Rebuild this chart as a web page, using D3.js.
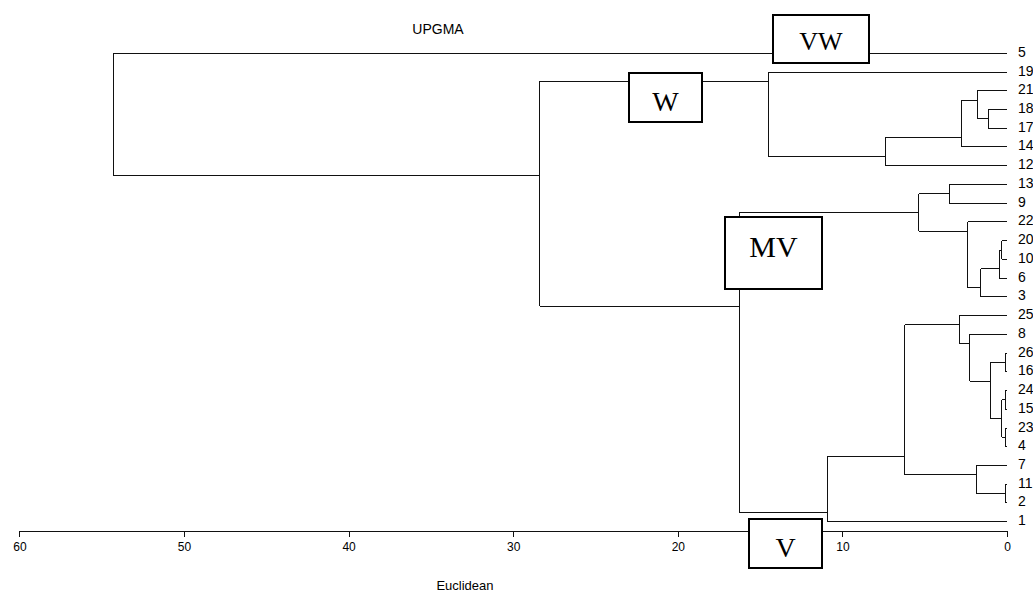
<!DOCTYPE html>
<html>
<head>
<meta charset="utf-8">
<script src="https://cdn.jsdelivr.net/npm/d3@7"></script>
<style>
  html, body { margin: 0; padding: 0; background: #fff; }
  svg { display: block; }
  .tree line { stroke: #111; stroke-width: 1; shape-rendering: crispEdges; }
  .axis text { font-family: "Liberation Sans", Arial, sans-serif; font-size: 12px; fill: #000; }
  .axis path, .axis line { stroke: #111; shape-rendering: crispEdges; }
</style>
</head>
<body>
<svg id="chart" width="1033" height="592"></svg>
<script>
// leaf order, top to bottom
const leaves = ['5', '19', '21', '18', '17', '14', '12', '13', '9', '22', '20', '10', '6', '3',
  '25', '8', '26', '16', '24', '15', '23', '4', '7', '11', '2', '1'];

// merges: [top child, bottom child, height]; internal nodes are named n0, n1, ...
const merges = [
  ['18', '17', 1.14],   // n0
  ['21', 'n0', 1.8],    // n1
  ['n1', '14', 2.75],   // n2
  ['n2', '12', 7.39],   // n3
  ['19', 'n3', 14.5],   // n4
  ['13', '9', 3.5],     // n5
  ['20', '10', 0.32],   // n6
  ['n6', '6', 0.47],    // n7
  ['n7', '3', 1.6],     // n8
  ['22', 'n8', 2.39],   // n9
  ['n5', 'n9', 5.35],   // n10
  ['26', '16', 0.12],   // n11
  ['24', '15', 0.12],   // n12
  ['23', '4', 0.12],    // n13
  ['n12', 'n13', 0.32], // n14
  ['n11', 'n14', 1.0],  // n15
  ['8', 'n15', 2.27],   // n16
  ['25', 'n16', 2.9],   // n17
  ['11', '2', 0.12],    // n18
  ['7', 'n18', 1.88],   // n19
  ['n17', 'n19', 6.2],  // n20
  ['n20', '1', 10.9],   // n21
  ['n10', 'n21', 16.28],// n22
  ['n4', 'n22', 28.4],  // n23
  ['5', 'n23', 54.3]    // n24
];

const xTicks = [60, 50, 40, 30, 20, 10, 0];
const title = 'UPGMA';
const xTitle = 'Euclidean';

const svg = d3.select('#chart');

const x = d3.scaleLinear().domain([60, 0]).range([19.4, 1007]);
const y = d3.scaleLinear().domain([0, leaves.length - 1]).range([53.3, 521.7]);

// build nodes
const nodes = {};
leaves.forEach((l, i) => {
  nodes[l] = {name: l, h: 0, first: i, last: i, pos: i};
});
merges.forEach((m, i) => {
  const a = nodes[m[0]], b = nodes[m[1]];
  // node sits at the split between its two children
  nodes['n' + i] = {
    name: 'n' + i, h: m[2], a: a, b: b,
    first: a.first, last: b.last,
    pos: (a.last + b.first) / 2
  };
});

const tree = svg.append('g').attr('class', 'tree');
merges.forEach((m, i) => {
  const n = nodes['n' + i];
  [n.a, n.b].forEach(c => {
    tree.append('line')
      .attr('x1', x(c.h)).attr('x2', x(n.h))
      .attr('y1', y(c.pos)).attr('y2', y(c.pos));
  });
  tree.append('line')
    .attr('x1', x(n.h)).attr('x2', x(n.h))
    .attr('y1', y(n.a.pos)).attr('y2', y(n.b.pos));
});

// leaf labels
svg.append('g')
  .selectAll('text')
  .data(leaves)
  .enter().append('text')
  .attr('x', x(0) + 11)
  .attr('y', (d, i) => y(i) + 3.5)
  .attr('font-family', '"Liberation Sans", Arial, sans-serif')
  .attr('font-size', '14px')
  .text(d => d);

// axis
svg.append('g')
  .attr('class', 'axis')
  .attr('transform', 'translate(0,531)')
  .call(d3.axisBottom(x).tickValues(xTicks).tickSize(6).tickSizeOuter(0).tickPadding(5))
  .call(g => g.selectAll('text').attr('dy', '0.71em'));

svg.append('text')
  .attr('x', 438).attr('y', 34)
  .attr('text-anchor', 'middle')
  .attr('font-family', '"Liberation Sans", Arial, sans-serif')
  .attr('font-size', '14px')
  .text(title);

svg.append('text')
  .attr('x', 465).attr('y', 590)
  .attr('text-anchor', 'middle')
  .attr('font-family', '"Liberation Sans", Arial, sans-serif')
  .attr('font-size', '13px')
  .text(xTitle);

// cluster boxes
const boxes = [
  {label: 'VW', x: 773, y: 15, w: 96, h: 48, size: 26, base: 50},
  {label: 'W', x: 629, y: 73, w: 73, h: 49, size: 28, base: 111},
  {label: 'MV', x: 725, y: 217, w: 97, h: 72, size: 30, base: 257},
  {label: 'V', x: 749, y: 519, w: 73, h: 49, size: 28, base: 557}
];
const bg = svg.append('g').selectAll('g').data(boxes).enter().append('g');
bg.append('rect')
  .attr('x', d => d.x).attr('y', d => d.y)
  .attr('width', d => d.w).attr('height', d => d.h)
  .attr('fill', '#fff').attr('stroke', '#000').attr('stroke-width', 2);
bg.append('text')
  .attr('x', d => d.x + d.w / 2).attr('y', d => d.base)
  .attr('text-anchor', 'middle')
  .attr('font-family', '"Liberation Serif", "Times New Roman", serif')
  .attr('font-size', d => d.size + 'px')
  .text(d => d.label);
</script>
</body>
</html>
